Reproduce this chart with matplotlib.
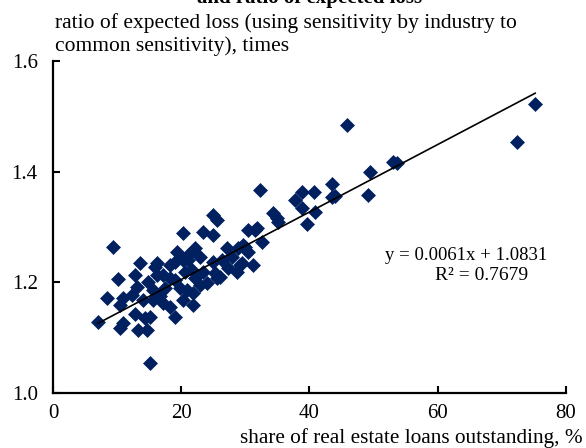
import matplotlib
matplotlib.use("Agg")
import matplotlib.pyplot as plt
import numpy as np

plt.rcParams['font.family'] = ['Liberation Serif', 'DejaVu Serif']

# share of real estate loans outstanding (%) and ratio of expected loss
share = [75.2, 72.4, 45.9, 53.7, 53.0, 49.5, 49.1, 43.5, 44.0, 43.5,
         40.7, 38.8, 37.8, 38.8, 40.9, 39.6, 32.3, 34.3, 35.1, 34.9,
         30.4, 31.5, 32.6, 29.6, 30.4, 25.0, 25.6, 20.3, 23.4, 25.0,
         19.3, 22.2, 21.1, 22.9, 27.1, 27.9, 29.2, 30.0, 16.2, 18.3,
         20.3, 21.7, 23.4, 25.3, 26.4, 17.2, 9.4, 10.1, 13.6, 15.9,
         12.8, 14.8, 13.1, 15.6, 8.4, 10.9, 10.5, 12.3, 7.0, 10.5,
         10.9, 12.8, 13.3, 14.7, 14.4, 15.1, 15.6, 16.2, 20.3, 21.8,
         19.0, 18.3, 17.2, 24.0, 25.6, 28.7, 15.1, 20.9, 21.8, 26.1,
         28.9, 29.5, 31.8, 21.0, 25.0, 19.0, 19.8, 17.5, 18.3, 22.9,
         16.7, 14.0, 22.2, 20.6, 19.0, 27.3, 31.2]
ratio = [1.522, 1.454, 1.484, 1.416, 1.417, 1.399, 1.358, 1.378, 1.356, 1.354,
         1.363, 1.363, 1.349, 1.334, 1.327, 1.305, 1.367, 1.325, 1.309, 1.316,
         1.294, 1.294, 1.273, 1.267, 1.255, 1.322, 1.313, 1.289, 1.291, 1.285,
         1.255, 1.262, 1.249, 1.246, 1.262, 1.246, 1.231, 1.264, 1.235, 1.231,
         1.240, 1.222, 1.218, 1.217, 1.240, 1.213, 1.264, 1.206, 1.235, 1.227,
         1.213, 1.200, 1.191, 1.186, 1.171, 1.171, 1.159, 1.177, 1.128, 1.117,
         1.126, 1.142, 1.114, 1.114, 1.135, 1.054, 1.168, 1.213, 1.168, 1.159,
         1.137, 1.155, 1.162, 1.199, 1.208, 1.218, 1.137, 1.186, 1.180, 1.209,
         1.262, 1.235, 1.298, 1.240, 1.237, 1.204, 1.190, 1.190, 1.208, 1.195,
         1.175, 1.168, 1.208, 1.218, 1.237, 1.226, 1.231]

# linear trend as reported on the chart
slope = 0.0061
intercept = 1.0831
r2 = 0.7679

fig = plt.figure(figsize=(5.86, 4.48), dpi=100)
ax = fig.add_axes([0.0904, 0.1228, 0.8754, 0.741])

ax.scatter(share, ratio, marker='D', s=58, color='#002060', linewidths=0, zorder=2)

xs = np.array([min(share), max(share)])
ax.plot(xs, intercept + slope * xs, color='black', lw=1.2, zorder=3)

ax.set_xlim(0, 80)
ax.set_ylim(1.0, 1.6)
ax.set_xticks([0, 20, 40, 60, 80])
ax.set_yticks([1.0, 1.2, 1.4, 1.6])
ax.set_yticklabels(['1.0', '1.2', '1.4', '1.6'])
ax.tick_params(direction='in', length=5, width=1.5, labelsize=15, pad=11)
ax.tick_params(axis='x', pad=8)

for side in ['top', 'right']:
    ax.spines[side].set_visible(False)
for side in ['left', 'bottom']:
    ax.spines[side].set_linewidth(1.6)

# titles and labels
fig.text(310 / 586, 1 - 3 / 448, 'and ratio of expected loss', ha='center', va='baseline',
         fontsize=15, fontweight='bold')
fig.text(55 / 586, 1 - 13 / 448,
         'ratio of expected loss (using sensitivity by industry to\ncommon sensitivity), times',
         ha='left', va='top', fontsize=15.5, linespacing=1.22)
fig.text(583 / 586, 1 - 438 / 448, 'share of real estate loans outstanding, %',
         ha='right', va='center', fontsize=15.3)

ax.text(466 / 586, 1 - 255 / 448, 'y = 0.0061x + 1.0831', transform=fig.transFigure,
        ha='center', va='center', fontsize=13.5)
ax.text(482 / 586, 1 - 275 / 448, 'R² = %.4f' % r2, transform=fig.transFigure,
        ha='center', va='center', fontsize=14)

fig.savefig('out.png', dpi=100)
